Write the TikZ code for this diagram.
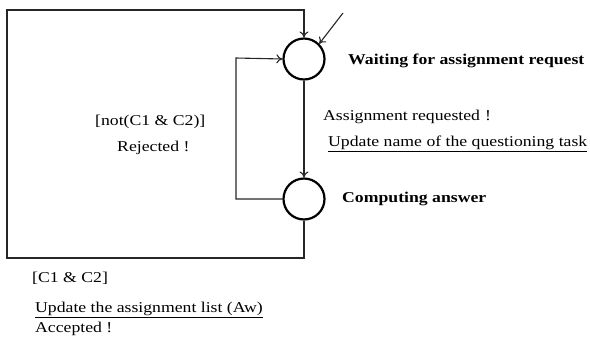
\documentclass[tikz,border=0pt]{standalone}
\usepackage{fontspec}
\setmainfont{Liberation Serif}[FakeStretch=1.18]
\usetikzlibrary{arrows.meta}
\begin{document}
\begin{tikzpicture}[x=1pt,y=-1pt,
  state/.style={circle,draw=black,line width=2.2pt,minimum size=41pt,inner sep=0pt},
  conn/.style={draw=black!85,line width=1.1pt},
  arr/.style={conn,-{To[length=6pt,width=9pt]}},
  lbl/.style={font=\fontsize{15}{17}\selectfont,inner sep=0pt,anchor=west},
  blbl/.style={font=\fontsize{15}{17}\selectfont\bfseries,inner sep=0pt,anchor=west}]
\useasboundingbox (0,0) rectangle (590,338);
\node[state] (w) at (304,59) {};
\node[state] (c) at (304,199) {};
\coordinate (tl) at (7,10);
\coordinate (tr) at (304,10);
\coordinate (bl) at (7,258);
\coordinate (br) at (304,258);
\coordinate (il) at (236,199);
\coordinate (iu) at (236,58);
\coordinate (ext) at (343,13);
% outer loop
\draw[arr] (c.south) -- (br) -- (bl) -- (tl) -- (tr) -- (w.north);
% inner loop
\draw[arr] (c.west) -- (il) -- (iu) -- (w.west);
% main transition
\draw[arr] (w.south) -- (c.north);
% initial arrow
\draw[arr] (ext) -- (w.north east);
% labels
\node[blbl] (wl) at (348,61) {Waiting for assignment request};
\node[blbl] (cl) at (342,199) {Computing answer};
\node[lbl] (t1) at (323,117) {Assignment requested\,\,!};
\node[lbl] (t2) at (328,144) {\underline{Update name of the questioning task}};
\node[lbl] (r1) at (95,122) {[not(C1 \& C2)]};
\node[lbl] (r2) at (117,148) {Rejected !};
\node[lbl] (a1) at (32,278) {[C1 \& C2]};
\node[lbl] (a2) at (35,310) {\underline{Update the assignment list (Aw)}};
\node[lbl] (a3) at (35,329) {Accepted !};
\end{tikzpicture}
\end{document}
